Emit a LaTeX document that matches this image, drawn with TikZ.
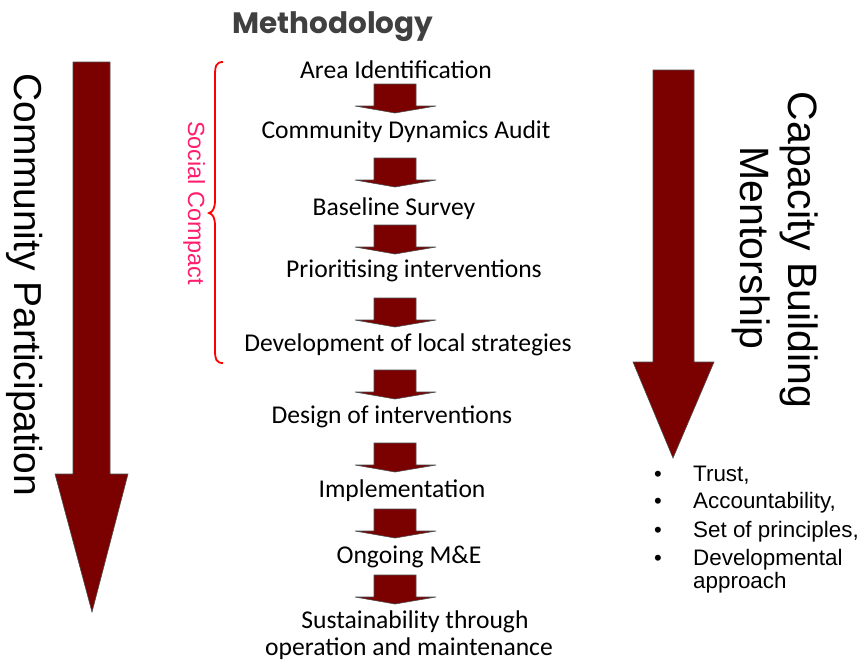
\documentclass[tikz,border=0pt]{standalone}
\usepackage{fontspec}
\setmainfont{Liberation Sans}
\newfontfamily\stepfont{Carlito}
\newfontfamily\methfont{Poppins}
\begin{document}
\begin{tikzpicture}[x=1pt,y=-1pt,
  maroonfill/.style={fill=maroonc, draw=black!70, line width=0.6pt, line join=miter},
  steptext/.style={font=\stepfont\fontsize{25.6}{27}\selectfont, inner sep=0pt, anchor=base, text=black},
  bigtext/.style={font=\fontsize{39}{47}\selectfont, inner sep=0pt, rotate=-90, align=center},
  bullettext/.style={font=\fontsize{22.4}{23}\selectfont, inner sep=0pt, anchor=base west, align=left},
  bulletdot/.style={font=\fontsize{22}{23}\selectfont, inner sep=0pt, anchor=base}]
\definecolor{maroonc}{RGB}{123,0,0}
\definecolor{methgray}{RGB}{64,64,64}
\definecolor{socialpink}{RGB}{255,30,110}
\fill[white] (0,0) rectangle (865,665);
\useasboundingbox (0,0) rectangle (865,665);

% title
\node[font=\methfont\bfseries\fontsize{29.5}{32}\selectfont, text=methgray, inner sep=0pt, anchor=base] (title) at (333,33) {Methodology};

% left big arrow
\draw[maroonfill] (73,62) -- (110,62) -- (110,474) -- (128,474) -- (92,612) -- (55,474) -- (73,474) -- cycle;
\node[bigtext, anchor=base] (cp) at (14,285) {Community Participation};

% right big arrow
\draw[maroonfill] (653,70) -- (694,70) -- (694,362) -- (714,362) -- (673,458) -- (633,362) -- (653,362) -- cycle;
\node[bigtext, font=\fontsize{41}{48}\selectfont, anchor=base] (cb) at (788,250) {Capacity Building};
\node[bigtext, font=\fontsize{41}{48}\selectfont, anchor=base] (ms) at (740,248) {Mentorship};

% bullets
\node[bulletdot] (b1) at (658,481) {•};
\node[bullettext] (t1) at (693,481) {Trust,};
\node[bulletdot] (b2) at (658,508) {•};
\node[bullettext] (t2) at (693,508) {Accountability,};
\node[bulletdot] (b3) at (658,537) {•};
\node[bullettext] (t3) at (693,537) {Set of principles,};
\node[bulletdot] (b4) at (658,565) {•};
\node[bullettext] (t4) at (693,565) {Developmental};
\node[bullettext] (t5) at (693,588) {approach};

% social compact brace
\draw[red, line width=1.8pt] (223,62) .. controls (216,62) and (215,66) .. (215,76) -- (215,200) .. controls (215,208) and (213,212) .. (209,213) .. controls (213,214) and (215,218) .. (215,226) -- (215,350) .. controls (215,359) and (216,363) .. (223,363);
\node[font=\fontsize{23.4}{26}\selectfont, text=socialpink, rotate=-90, inner sep=0pt, anchor=base] (sc) at (188,203) {Social Compact};

% steps
\node[steptext] (s1) at (396,78) {Area Identification};
\node[steptext] (s2) at (406,138) {Community Dynamics Audit};
\node[steptext] (s3) at (394,215) {Baseline Survey};
\node[steptext] (s4) at (414,277) {Prioritising interventions};
\node[steptext] (s5) at (408,351) {Development of local strategies};
\node[steptext] (s6) at (392,423) {Design of interventions};
\node[steptext] (s7) at (402,497) {Implementation};
\node[steptext] (s8) at (409,563) {Ongoing M\&E};
\node[steptext] (s9) at (415,628) {Sustainability through};
\node[steptext] (s9b) at (409,655) {operation and maintenance};

% small block arrows between steps
\foreach \t in {84,158,225,298,370,443,509,575}{
  \draw[maroonfill] (374,\t) -- (416,\t) -- (416,\t+22) -- (436,\t+22) -- (395,\t+29) -- (355,\t+22) -- (374,\t+22) -- cycle;
}
\end{tikzpicture}
\end{document}
